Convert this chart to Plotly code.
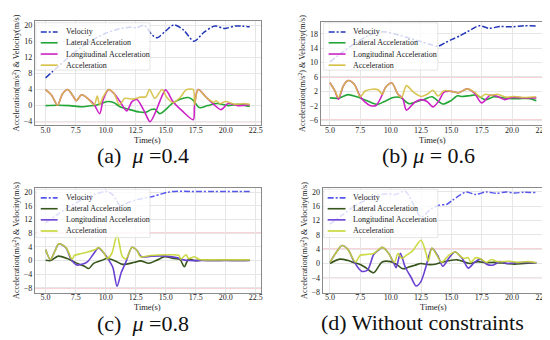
import plotly.graph_objects as go

W, H = 550, 340
FONT = "Liberation Serif, Times New Roman, DejaVu Serif, serif"

# ---------------- data ----------------
series_names = ["Velocity", "Lateral Acceleration", "Longitudinal Acceleration", "Acceleration"]
captions = ["(a)\u00a0\u00a0<i>\u03bc</i> =0.4", "(b) <i>\u03bc</i> = 0.6",
            "(c)\u00a0\u00a0<i>\u03bc</i> =0.8", "(d) Without constraints"]
x_title = "Time(s)"
y_title = "Acceleration(m/s<sup>2</sup>) & Velocity(m/s)"
x_ticks = [5.0, 7.5, 10.0, 12.5, 15.0, 17.5, 20.0, 22.5]
limits = [4, 6, 8, 4]

# (a) mu = 0.4
a_vel_t = [5, 6, 7, 8, 9, 10, 11, 12, 12.6, 13.2, 13.9, 14.3, 15, 15.7, 16.5, 17.35, 18.2, 19.1, 19.9, 20.8, 22]
a_vel = [6.9, 9.6, 12.2, 14.6, 16.5, 18, 19, 19.5, 19.4, 20, 17.5, 16.9, 18.6, 20.1, 18.8, 16.0, 18.3, 19.8, 19.2, 19.8, 19.6]
a_lat_t = [5, 6, 7, 8.0, 8.6, 9.2, 9.7, 10.2, 10.7, 11.2, 12.0, 12.8, 13.3, 13.8, 14.1, 14.5, 15.0, 15.5, 16.2, 16.9, 17.3, 17.8, 18.5, 19.3, 20.2, 21.0, 22]
a_lat = [0, 0.1, 0, -0.3, -0.1, 0.1, 0.6, 1.0, 0.7, -0.3, -1.0, -1.6, -1.7, -1.0, -0.9, -2.0, -1.0, 0.4, 1.6, 2.0, 1.3, -0.5, 0, 0.5, 0, 0.3, -0.2]
a_lon_t = [5, 5.5, 6.0, 6.4, 6.85, 7.3, 7.55, 8.0, 8.5, 9.05, 9.5, 9.8, 10.25, 10.7, 11.2, 11.75, 12.2, 12.6, 13.2, 13.7, 14.2, 14.5, 15.0, 15.6, 16.4, 17.3, 17.4, 17.7, 18.4, 19.0, 19.6, 20.2, 21.0, 22]
a_lon = [4.0, 2.6, 0.1, 2.9, 4.0, 2.3, 1.2, 2.7, 1.8, 0.2, -2.0, 1.5, 4.0, 3.0, 1.0, -1.35, 1.0, 1.5, -1.3, -4.0, -1.3, 1.0, 3.9, 1.0, -1.4, -3.5, 0.0, 4.0, 2.0, 0.3, -1.0, 0.5, 0.0, 0.2]
a_acc_t = [5, 5.5, 6.0, 6.4, 6.85, 7.3, 7.55, 8.0, 8.5, 9.05, 9.3, 9.5, 9.8, 10.25, 10.7, 11.15, 11.6, 12.3, 12.9, 13.35, 13.65, 14.1, 14.7, 15.1, 15.6, 16.2, 16.7, 17.3, 17.4, 17.7, 18.4, 19.0, 19.2, 19.5, 20.0, 20.8, 21.5, 22]
a_acc = [4.0, 2.6, 0.1, 2.9, 4.0, 2.3, 1.2, 2.7, 1.8, 0.2, 2.4, 0.2, 2.2, 4.0, 3.0, 0.2, 1.8, 1.6, 2.1, 2.2, 4.0, 1.8, 4.0, 2.0, 0.7, 2.0, 3.9, 4.0, 0.2, 4.0, 2.0, 0.8, 1.2, 0.5, 1.0, 0.3, 0.5, 0.3]

# (b) mu = 0.6
b_vel_t = [5, 6, 7, 8, 9, 9.6, 10.5, 11.5, 12.5, 13.3, 13.9, 14.5, 15.1, 15.7, 16.3, 17.3, 18.1, 19.0, 20.0, 21.0, 22]
b_vel = [10.2, 12.8, 15.2, 17.2, 18.4, 18.5, 17.8, 16.8, 15.8, 15.0, 14.5, 15.5, 16.5, 17.4, 18.5, 20.2, 19.5, 20.0, 19.9, 20.2, 20.1]
b_lat_t = [5, 5.7, 6.5, 7.2, 8.0, 8.9, 9.5, 10.2, 10.8, 11.5, 12.2, 12.8, 13.4, 14.3, 15.0, 15.5, 15.8, 16.5, 17.0, 17.8, 18.5, 19.5, 20.5, 21.5, 22]
b_lat = [0.2, 0.1, 1.1, 0.5, -0.5, -1.6, -0.8, 0.3, 0.3, -1.4, -0.8, -0.2, 0.5, -1.5, -0.5, 0.8, 0.6, 0.8, 1.0, -0.3, 0.5, 0.1, 0.0, 0.0, -0.6]
b_lon_t = [5.0, 5.4, 5.7, 6.1, 6.5, 7.0, 7.5, 7.9, 8.3, 8.8, 9.3, 9.6, 10.1, 10.6, 11.0, 11.3, 12.0, 12.5, 13.0, 13.5, 14.0, 14.4, 15.0, 15.6, 16.3, 16.9, 17.5, 18.2, 18.8, 19.4, 20.0, 21.0, 22.0]
b_lon = [4.4, 2.2, -0.2, 3.5, 5.0, 4.0, 0.5, -1.0, -1.9, -1.9, 1.0, 3.2, 4.3, 1.2, 0.0, -3.2, -1.0, -0.3, -0.8, -2.3, -0.5, 1.8, 2.0, 1.6, 2.7, 1.5, -1.2, 0.9, 0.6, -0.3, 0.3, 0.2, 0.2]
b_acc_t = [5.0, 5.4, 5.7, 6.1, 6.5, 7.0, 7.5, 7.9, 8.5, 9.0, 9.3, 9.6, 10.1, 10.6, 10.9, 11.3, 11.9, 12.5, 13.0, 13.5, 13.9, 14.4, 15.0, 15.6, 16.3, 16.9, 17.4, 17.8, 18.3, 18.8, 19.5, 20.2, 21.0, 22.0]
b_acc = [4.4, 2.2, 0.3, 3.5, 5.0, 4.0, 0.5, 2.1, 2.6, 2.4, 1.2, 3.2, 4.3, 1.2, 0.3, 3.6, 1.7, 0.6, 1.2, 2.3, 0.7, 2.2, 2.0, 1.6, 2.7, 1.8, 0.4, 1.2, 0.9, 1.2, 0.4, 0.6, 0.3, 0.5]

# (c) mu = 0.8
c_vel_t = [5, 6, 7, 8, 9, 9.6, 10.1, 10.6, 11.25, 11.8, 12.6, 13.3, 14.0, 14.6, 15.1, 15.7, 17, 18, 19, 20, 21, 22]
c_vel = [11.0, 13.5, 15.8, 17.7, 19.2, 19.9, 20.2, 19.2, 15.9, 16.8, 17.8, 18.3, 18.8, 19.4, 19.9, 20.2, 20.2, 20.2, 20.2, 20.2, 20.2, 20.2]
c_lat_t = [5.0, 5.4, 6.05, 6.8, 7.5, 8.2, 8.6, 9.0, 9.7, 10.1, 10.8, 11.4, 12.4, 12.9, 13.6, 14.2, 14.9, 15.7, 16.2, 16.55, 16.9, 17.4, 18.0, 19, 20, 21, 22]
c_lat = [0.1, 0.0, 1.3, 0.6, -0.6, -1.6, -2.3, -0.8, 0.1, 0.6, -0.1, -1.1, -0.5, -0.1, -0.8, 0.0, 1.1, 0.6, 0.3, -1.8, 0.4, 0.0, 0.1, 0.0, 0.1, 0.0, 0.1]
c_lon_t = [5.0, 5.4, 5.8, 6.1, 6.7, 7.1, 7.6, 8.1, 8.5, 9.0, 9.4, 9.9, 10.2, 10.6, 10.95, 11.3, 11.7, 12.2, 12.6, 13.0, 13.8, 15.0, 16.0, 16.5, 17.0, 18, 20, 22]
c_lon = [3.2, 0.3, 3.0, 4.9, 3.7, 0.5, -1.3, -1.0, -0.3, 2.0, 3.7, 2.0, 0.5, -2.0, -7.5, -3.5, -0.3, 3.9, 3.0, 1.1, 1.3, 1.3, 0.8, 0.2, 0.0, 0.0, 0.0, 0.0]
c_acc_t = [5.0, 5.4, 5.8, 6.1, 6.7, 7.2, 7.4, 7.9, 8.5, 9.2, 9.4, 9.9, 10.1, 10.5, 10.95, 11.4, 11.7, 12.2, 12.6, 12.9, 13.75, 15.1, 16.1, 16.25, 16.7, 16.9, 17.4, 17.8, 18.3, 19, 20, 21, 22]
c_acc = [3.2, 0.3, 3.0, 4.9, 3.8, 0.4, 1.5, 2.0, 2.5, 3.3, 3.8, 2.0, 0.6, 2.0, 7.5, 1.1, 0.5, 3.9, 3.0, 1.1, 1.5, 1.7, 1.5, 0.4, 1.7, 0.6, 1.1, 0.3, 0.2, 0.2, 0.2, 0.2, 0.2]

# (d) without constraints
d_vel_t = [5, 6, 7, 8, 9, 9.7, 10.4, 11.2, 11.8, 12.5, 13.3, 14.0, 14.6, 15.1, 15.8, 16.2, 17.0, 17.9, 18.7, 19.5, 20.2, 21.0, 22]
d_vel = [11.0, 13.5, 16.0, 17.8, 19.2, 19.5, 19.3, 20.2, 17.0, 13.0, 15.2, 16.3, 16.5, 17.7, 19.3, 20.0, 19.3, 20.0, 19.6, 20.0, 19.7, 19.9, 19.8]
d_lat_t = [5.0, 5.8, 6.5, 7.0, 7.5, 8.0, 8.6, 9.3, 10.0, 10.5, 11.0, 11.5, 12.0, 12.5, 13.0, 13.5, 14.2, 15.0, 15.5, 16.0, 16.5, 17.2, 17.8, 18.5, 19.5, 20.2, 21.0, 22.0]
d_lat = [0.0, 1.2, 0.8, 0.2, -0.3, -1.3, -2.6, 0.4, 0.5, -0.3, -1.5, -1.0, -0.5, 0.0, -0.3, -0.3, 0.3, 0.9, 1.0, 0.5, 0.0, 0.5, 0.2, 0.3, 0.0, -0.2, 0.0, 0.2]
d_lon_t = [5.0, 5.5, 6.0, 6.5, 7.0, 7.6, 8.1, 8.6, 9.0, 9.3, 9.8, 10.2, 10.45, 10.8, 11.2, 11.7, 12.1, 12.5, 12.9, 13.4, 13.9, 14.3, 14.8, 15.3, 15.9, 16.4, 16.9, 17.4, 17.9, 18.4, 19.0, 19.6, 20.3, 21.2, 22.0]
d_lon = [0.3, 3.0, 5.0, 3.8, 0.4, -2.2, -1.8, 2.5, 3.7, 4.5, 3.0, 0.5, -1.2, 2.8, -1.0, -4.0, -6.3, -5.0, -1.0, 4.2, 2.0, -0.8, 1.5, 3.2, 1.4, -1.3, 0.3, 1.2, -0.2, -0.5, 0.5, 0.0, 0.2, 0.3, 0.2]
d_acc_t = [5.0, 5.5, 6.0, 6.5, 7.1, 7.5, 8.0, 8.6, 9.3, 9.8, 10.3, 10.6, 10.9, 11.3, 11.8, 12.5, 12.9, 13.1, 13.4, 13.8, 14.2, 14.7, 15.3, 16.0, 16.4, 16.6, 17.0, 17.45, 17.9, 18.3, 18.8, 19.8, 20.5, 21.3, 22.0]
d_acc = [0.3, 3.0, 5.0, 3.8, 0.4, 2.3, 2.5, 2.8, 4.5, 3.0, 0.3, 2.8, 1.4, 2.3, 3.5, 6.5, 3.0, 0.6, 4.3, 2.3, 0.3, 2.0, 3.2, 1.4, 1.6, 0.3, 1.6, 1.2, 0.3, 1.1, 0.5, 0.6, 0.3, 0.5, 0.2]

panels_data = [
    [(a_vel_t, a_vel), (a_lat_t, a_lat), (a_lon_t, a_lon), (a_acc_t, a_acc)],
    [(b_vel_t, b_vel), (b_lat_t, b_lat), (b_lon_t, b_lon), (b_acc_t, b_acc)],
    [(c_vel_t, c_vel), (c_lat_t, c_lat), (c_lon_t, c_lon), (c_acc_t, c_acc)],
    [(d_vel_t, d_vel), (d_lat_t, d_lat), (d_lon_t, d_lon), (d_acc_t, d_acc)],
]

# ---------------- styling / layout ----------------
colors_ab = ["#2236b8", "#22a636", "#cc22c6", "#d6c044"]
colors_cd = ["#5656ee", "#37561c", "#6a42d2", "#c6d632"]
panel_colors = [colors_ab, colors_ab, colors_cd, colors_cd]

# plot areas in pixels (x0, x1, y_top, y_bottom)
areas = [(27, 255, 12, 118), (315, 541, 13, 118), (27, 255, 182, 288), (317, 541, 182, 288)]
y_ranges = [[-4.9, 21.1], [-7.4, 21.3], [-9.4, 21.1], [-8.2, 21.0]]
x_ranges = [[4.1, 22.95], [4.24, 22.72], [4.1, 22.95], [4.4, 22.72]]
y_tick0 = [0, 2, 0, 0]
# legend geometry in pixels: box, line x0, line x1, text x, entry y list
legends = [
    ((28, 14, 143, 62), 33, 50, 56, [23.3, 34.3, 45.7, 57.0]),
    ((318, 14, 433, 62), 323, 340, 346, [23.3, 34.3, 45.7, 57.0]),
    ((28, 183, 143, 232), 33, 50, 56, [191.7, 202.7, 214.0, 225.3]),
    ((318, 183, 433, 232), 322, 340, 346, [191.7, 202.7, 214.0, 225.3]),
]
xtitle_y = [133, 133, 302, 302]
caption_pos = [(135.5, 149), (424, 149), (136, 319), (418, 318)]


def px(x):
    return x / W


def py(y):
    return 1 - y / H


fig = go.Figure()
shapes = []
annotations = []
layout_axes = {}

for i in range(4):
    sfx = "" if i == 0 else str(i + 1)
    xa, ya = "x" + sfx, "y" + sfx
    cols = panel_colors[i]
    for k, (t, v) in enumerate(panels_data[i]):
        if k == 0:
            line = dict(color=cols[k], width=1.5, dash="6px,2px,2px,2px")
        else:
            line = dict(color=cols[k], width=1.6)
        line["shape"] = "spline"
        line["smoothing"] = 0.8
        fig.add_trace(go.Scatter(x=t, y=v, mode="lines", line=line, xaxis=xa, yaxis=ya,
                                 name=series_names[k], showlegend=False,
                                 opacity=0.9 if k == 3 else 1.0))
    x0, x1, yt, yb = areas[i]
    axis_common = dict(showgrid=True, gridcolor="#e6e6e6", gridwidth=1, zeroline=False,
                       showline=True, mirror=True, linecolor="#8a8a8a", linewidth=1,
                       ticks="", tickfont=dict(family=FONT, size=8, color="#222"))
    layout_axes["xaxis" + sfx] = dict(axis_common, domain=[px(x0), px(x1)], range=x_ranges[i],
                                      anchor=ya, tickvals=x_ticks, tickformat=".1f",
                                      ticklabelstandoff=-3)
    layout_axes["yaxis" + sfx] = dict(axis_common, domain=[py(yb), py(yt)], range=y_ranges[i],
                                      anchor=xa, tick0=y_tick0[i], dtick=4,
                                      title=dict(text=y_title,
                                                 font=dict(family=FONT, size=8.2, color="#222"),
                                                 standoff=2))
    # x-axis title
    annotations.append(dict(x=px((x0 + x1) / 2), y=py(xtitle_y[i]), xref="paper", yref="paper",
                            text=x_title, showarrow=False, xanchor="center", yanchor="middle",
                            font=dict(family=FONT, size=8.5, color="#222")))
    # limit lines
    for s in (1, -1):
        shapes.append(dict(type="line", xref=xa + " domain", yref=ya, x0=0, x1=1,
                           y0=s * limits[i], y1=s * limits[i],
                           line=dict(color="rgba(240,140,150,0.75)", width=1.2), layer="below"))
    # legend (drawn manually to match the compact matplotlib legend)
    (bx0, by0, bx1, by1), lx0, lx1, tx, eys = legends[i]
    shapes.append(dict(type="rect", xref="paper", yref="paper", x0=px(bx0), x1=px(bx1),
                       y0=py(by1), y1=py(by0), fillcolor="rgba(255,255,255,0.8)",
                       line=dict(color="rgba(215,215,215,0.8)", width=0.8), layer="above"))
    for k in range(4):
        dash = "6px,2px,2px,2px" if k == 0 else "solid"
        shapes.append(dict(type="line", xref="paper", yref="paper", x0=px(lx0), x1=px(lx1),
                           y0=py(eys[k]), y1=py(eys[k]),
                           line=dict(color=cols[k], width=1.6, dash=dash), layer="above"))
        annotations.append(dict(x=px(tx), y=py(eys[k]), xref="paper", yref="paper",
                                text=series_names[k], showarrow=False, xanchor="left", yanchor="middle",
                                font=dict(family=FONT, size=8, color="#222")))
    cx, cy = caption_pos[i]
    annotations.append(dict(x=px(cx), y=py(cy), xref="paper", yref="paper", text=captions[i],
                            showarrow=False, xanchor="center", yanchor="middle",
                            font=dict(family=FONT, size=22, color="#111")))

fig.update_layout(width=W, height=H, margin=dict(l=0, r=0, t=0, b=0),
                  paper_bgcolor="white", plot_bgcolor="white", showlegend=False,
                  shapes=shapes, annotations=annotations, **layout_axes)

fig.write_html("out.html")
